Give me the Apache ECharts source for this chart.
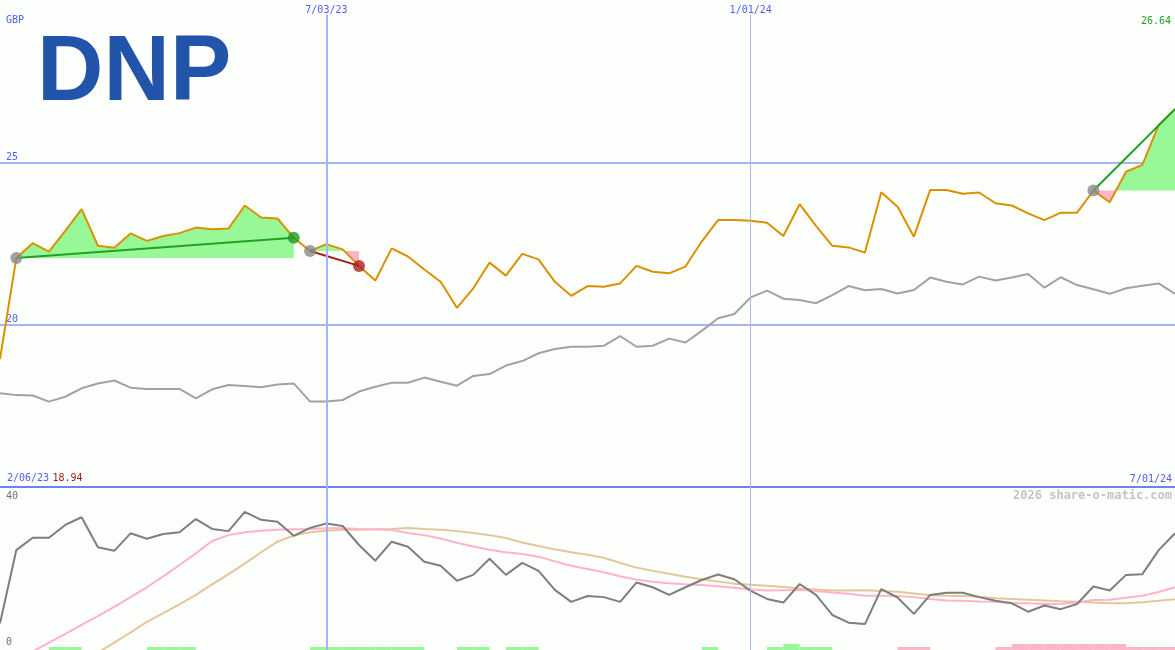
<!DOCTYPE html>
<html><head><meta charset="utf-8">
<script src="https://cdn.jsdelivr.net/npm/echarts@6/dist/echarts.min.js"></script>
<style>html,body{margin:0;padding:0;background:#fcfffc}#c{width:1175px;height:650px}</style>
</head><body><div id="c"></div><script>
// ---------------- data ----------------
const ticker = 'DNP';
const currency = 'GBP';
const rangeLabels = ['2/06/23', '7/01/24'];
const gridDateLabels = ['7/03/23', '1/01/24'];
const gridDateIndex = [20, 46];
const priceTicks = [20, 25];
const oscTicks = [0, 40];
const watermark = '2026 share-o-matic.com';

// weekly closing price (index 0 .. 72)
const price = [18.94, 22.05, 22.51, 22.25, 22.89, 23.56, 22.43, 22.37, 22.81, 22.58,
  22.73, 22.82, 22.99, 22.94, 22.96, 23.67, 23.30, 23.27, 22.68, 22.27,
  22.48, 22.32, 21.81, 21.36, 22.35, 22.10, 21.70, 21.32, 20.52, 21.12,
  21.91, 21.51, 22.18, 22.01, 21.32, 20.89, 21.19, 21.17, 21.27, 21.81,
  21.63, 21.58, 21.79, 22.56, 23.22, 23.22, 23.20, 23.14, 22.73, 23.71,
  23.04, 22.43, 22.38, 22.22, 24.08, 23.63, 22.71, 24.15, 24.15, 24.03,
  24.07, 23.74, 23.67, 23.43, 23.22, 23.45, 23.45, 24.13, 23.77, 24.71,
  24.92, 26.15, 26.64];

// comparison index (grey line, same scale)
const compare = [17.89, 17.83, 17.82, 17.63, 17.78, 18.04, 18.19, 18.28, 18.06, 18.02,
  18.02, 18.02, 17.73, 18.01, 18.14, 18.11, 18.07, 18.16, 18.19, 17.63,
  17.63, 17.68, 17.94, 18.09, 18.21, 18.21, 18.37, 18.24, 18.12, 18.42,
  18.48, 18.74, 18.88, 19.12, 19.25, 19.32, 19.32, 19.35, 19.65, 19.32,
  19.35, 19.57, 19.45, 19.81, 20.20, 20.33, 20.84, 21.05, 20.80, 20.76,
  20.66, 20.91, 21.19, 21.06, 21.10, 20.96, 21.07, 21.45, 21.32, 21.24,
  21.48, 21.36, 21.45, 21.56, 21.14, 21.46, 21.22, 21.09, 20.95, 21.12,
  21.20, 21.27, 20.95];

// lower panel oscillator
const oscillator = [5.1, 25.2, 28.6, 28.6, 32.1, 34.2, 26.0, 25.0, 29.8, 28.3,
  29.6, 30.1, 33.7, 31.0, 30.4, 35.7, 33.5, 33.0, 29.1, 31.3,
  32.5, 31.8, 26.6, 22.3, 27.5, 26.1, 22.0, 20.9, 16.8, 18.4,
  22.8, 18.4, 21.7, 19.5, 14.3, 11.0, 12.6, 12.3, 11.0, 16.3,
  15.0, 12.9, 15.0, 17.0, 18.5, 17.2, 14.0, 11.8, 10.8, 15.9,
  12.9, 7.4, 5.3, 4.9, 14.5, 12.2, 7.7, 12.9, 13.5, 13.5,
  12.3, 11.3, 10.6, 8.3, 10.0, 9.0, 10.4, 15.2, 14.1, 18.4,
  18.6, 25.2, 29.8];

// pink average
const maFast = [null, null, -2.6, -0.2, 2.2, 4.7, 7.1, 9.6, 12.3, 15.0,
  18.0, 21.1, 24.3, 27.7, 29.3, 30.1, 30.5, 30.8, 30.9, 31.0,
  31.2, 31.2, 31.0, 30.9, 30.7, 29.9, 29.3, 28.4, 27.2, 26.2,
  25.3, 24.6, 24.1, 23.4, 22.1, 20.9, 20.0, 19.1, 18.0, 17.1,
  16.5, 16.1, 15.8, 15.6, 15.3, 14.9, 14.4, 14.1, 14.2, 14.3,
  14.0, 13.6, 13.2, 12.7, 12.7, 12.6, 12.3, 11.8, 11.4, 11.3,
  11.1, 11.0, 10.7, 10.6, 10.4, 10.5, 10.8, 11.5, 11.6, 12.1,
  12.7, 13.7, 15.0];

// tan average
const maSlow = [null, null, null, null, null, null, -2.9, -0.2, 2.6, 5.5,
  7.9, 10.3, 12.9, 15.8, 18.6, 21.5, 24.6, 27.5, 29.2, 30.1,
  30.5, 30.8, 30.8, 30.9, 31.0, 31.25, 31.0, 30.8, 30.4, 29.9,
  29.3, 28.5, 27.3, 26.3, 25.4, 24.6, 23.9, 23.1, 21.7, 20.4,
  19.5, 18.7, 17.9, 17.2, 16.6, 16.0, 15.7, 15.4, 15.1, 14.7,
  14.4, 14.1, 14.15, 14.2, 14.0, 13.8, 13.3, 12.8, 12.7, 12.6,
  12.4, 12.0, 11.8, 11.6, 11.4, 11.2, 11.05, 10.8, 10.6, 10.6,
  10.9, 11.3, 11.7];

// weekly signal strip (interval i..i+1): + green, - pink
const signal = [0, 0, 0, 1, 1, 0, 0, 0, 0, 1,
  1, 1, 0, 0, 0, 0, 0, 0, 0, 1,
  1, 1, 1, 1, 1, 1, 0, 0, 1, 1,
  0, 1, 1, 0, 0, 0, 0, 0, 0, 0,
  0, 0, 0, 1, 0, 0, 0, 1, 2, 1,
  1, 0, 0, 0, 0, -1, -1, 0, 0, 0,
  0, -1, -2, -2, -2, -2, -2, -2, -2, -1,
  -1, -1];

// trades
const tradeStart = [1, 19, 67];
const tradeEnd = [18, 22, 72];
const tradeOpen = [false, false, true];

// ---------------- styles ----------------
const C = {
  bg: '#fcfffc', blue: '#5060f0', grid: '#a4b4f4', sep: '#7080f0',
  price: '#d99100', compare: '#a2a2a2', osc: '#7e7e7e',
  fast: '#ffb2c8', slow: '#e2c898', green: '#98f898', pink: '#fbb6c8',
  trendUp: '#22a022', trendDown: '#a41e1e', dotGrey: '#8a8a8a',
  dotUp: '#229922', dotDown: '#aa2222'
};
const mono = 'DejaVu Sans Mono';
const N = price.length - 1;
const LOW_MIN = -2.2, LOW_MAX = 42.5;

const pair = arr => arr.map((v, i) => [i, v]);

function tradeFill(params, api) {
  const k = params.dataIndex;
  const s = tradeStart[k], e = tradeEnd[k], b = price[s];
  const pts = [];
  for (let i = s; i <= e; i++) {
    pts.push([i, price[i]]);
    if (i < e) {
      const d0 = price[i] - b, d1 = price[i + 1] - b;
      if (d0 * d1 < 0) { const t = d0 / (d0 - d1); pts.push([i + t, b]); }
    }
  }
  const up = pts.map(p => api.coord([p[0], Math.max(p[1], b)]));
  const dn = pts.map(p => api.coord([p[0], Math.min(p[1], b)]));
  const baseR = api.coord([e, b]), baseL = api.coord([s, b]);
  return { type: 'group', children: [
    { type: 'polygon', shape: { points: up.concat([baseR, baseL]) }, style: { fill: C.green } },
    { type: 'polygon', shape: { points: dn.concat([baseR, baseL]) }, style: { fill: C.pink } }
  ]};
}

function signalBar(params, api) {
  const i = api.value(0), lv = api.value(1);
  if (!lv) return null;
  const a = api.coord([i, 0]), b = api.coord([i + 1, Math.abs(lv)]);
  return { type: 'rect', shape: { x: a[0], y: b[1], width: b[0] - a[0], height: a[1] - b[1] },
    style: { fill: lv > 0 ? C.green : C.pink } };
}

const trendSeries = tradeStart.map((s, k) => {
  const e = tradeEnd[k];
  const col = price[e] >= price[s] ? C.trendUp : C.trendDown;
  return { type: 'line', xAxisIndex: 0, yAxisIndex: 0, data: [[s, price[s]], [e, price[e]]],
    symbol: 'none', lineStyle: { color: col, width: 2 }, z: 4, silent: true };
});

const entryDots = tradeStart.map(s => [s, price[s]]);
const exitDots = tradeEnd.map((e, k) => tradeOpen[k] ? null :
  { value: [e, price[e]], itemStyle: { color: price[e] >= price[tradeStart[k]] ? C.dotUp : C.dotDown } }).filter(Boolean);

const option = {
  animation: false,
  backgroundColor: C.bg,
  title: { text: ticker, left: 32, top: 24,
    textStyle: { fontSize: 92, fontWeight: 'bold', color: '#2255aa', fontFamily: 'Liberation Sans' } },
  graphic: [
    { type: 'text', left: 6, top: 15, style: { text: currency, fill: C.blue, font: '10px ' + mono } },
    { type: 'text', right: 4, top: 16, style: { text: price[N].toFixed(2), fill: '#22a022', font: '10px ' + mono } },
    { type: 'text', right: 3, top: 490, style: { text: watermark, fill: '#c4c4c4', font: 'bold 12px ' + mono } }
  ],
  grid: [
    { left: 0, right: 0, top: 0, height: 487 },
    { left: 0, right: 0, top: 487, height: 163 }
  ],
  xAxis: [
    { type: 'value', gridIndex: 0, min: 0, max: N, position: 'bottom',
      axisLine: { show: true, onZero: false, lineStyle: { color: C.sep, width: 2 } },
      axisTick: { show: false }, splitLine: { show: false },
      axisLabel: { inside: true, margin: 3, customValues: [0, N], showMinLabel: true, showMaxLabel: true,
        alignMinLabel: 'left', alignMaxLabel: 'right',
        formatter: v => v === 0 ? '{d|' + rangeLabels[0] + '} {r|' + price[0].toFixed(2) + '}' : '{e|' + rangeLabels[1] + '}',
        rich: {
          d: { color: C.blue, fontFamily: mono, fontSize: 10, padding: [0, 0, 0, 7] },
          r: { color: '#a01c1c', fontFamily: mono, fontSize: 10 },
          e: { color: C.blue, fontFamily: mono, fontSize: 10, padding: [0, 3, 0, 0] }
        } } },
    { type: 'value', gridIndex: 0, min: 0, max: N, position: 'top',
      axisLine: { show: false }, axisTick: { show: false }, splitLine: { show: false },
      axisLabel: { inside: true, margin: 5, customValues: gridDateIndex,
        formatter: v => gridDateLabels[gridDateIndex.indexOf(v)],
        color: C.blue, fontFamily: mono, fontSize: 10 } },
    { type: 'value', gridIndex: 1, min: 0, max: N, show: false }
  ],
  yAxis: [
    { type: 'value', gridIndex: 0, min: 15, max: 30, interval: 5,
      axisLine: { show: false }, axisTick: { show: false },
      splitLine: { show: true, showMinLine: false, showMaxLine: false, lineStyle: { color: C.grid, width: 2 } },
      axisLabel: { inside: true, margin: 6, customValues: priceTicks, verticalAlign: 'bottom',
        color: C.blue, fontFamily: mono, fontSize: 10 } },
    { type: 'value', gridIndex: 1, min: LOW_MIN, max: LOW_MAX,
      axisLine: { show: false }, axisTick: { show: false }, splitLine: { show: false },
      axisLabel: { inside: true, margin: 6, customValues: oscTicks, verticalAlign: 'middle',
        color: '#707070', fontFamily: mono, fontSize: 10 } },
    { type: 'value', gridIndex: 1, min: 0, max: 163 / 3, show: false }
  ],
  series: [
    { type: 'custom', xAxisIndex: 0, yAxisIndex: 0, renderItem: tradeFill,
      data: tradeStart.map(s => [s, price[s]]), z: 1, silent: true },
    { type: 'line', xAxisIndex: 0, yAxisIndex: 0, data: pair(compare), symbol: 'none',
      lineStyle: { color: C.compare, width: 2 }, z: 2, silent: true,
      markLine: { silent: true, symbol: ['none', 'none'], label: { show: false },
        data: gridDateIndex.map((v, j) => [
          { coord: [v, 29.55], lineStyle: { color: j === 0 ? C.grid : '#b0b8e6', width: j === 0 ? 2 : 1, type: 'solid' } },
          { coord: [v, 15] }]) } },
    { type: 'line', xAxisIndex: 0, yAxisIndex: 0, data: pair(price), symbol: 'none',
      lineStyle: { color: C.price, width: 2 }, z: 3, silent: true },
    ...trendSeries,
    { type: 'scatter', xAxisIndex: 0, yAxisIndex: 0, data: entryDots, symbolSize: 12,
      itemStyle: { color: C.dotGrey }, z: 5, silent: true },
    { type: 'scatter', xAxisIndex: 0, yAxisIndex: 0, data: exitDots, symbolSize: 12, z: 5, silent: true },
    // lower panel
    { type: 'custom', xAxisIndex: 2, yAxisIndex: 2, renderItem: signalBar,
      data: signal.map((v, i) => [i, v]), z: 1, silent: true },
    { type: 'line', xAxisIndex: 2, yAxisIndex: 1, data: pair(maSlow), symbol: 'none',
      lineStyle: { color: C.slow, width: 2 }, z: 2, silent: true,
      markLine: { silent: true, symbol: ['none', 'none'], label: { show: false },
        data: gridDateIndex.map((v, j) => ({ xAxis: v,
          lineStyle: { color: j === 0 ? C.grid : '#b0b8e6', width: j === 0 ? 2 : 1, type: 'solid' } })) } },
    { type: 'line', xAxisIndex: 2, yAxisIndex: 1, data: pair(maFast), symbol: 'none',
      lineStyle: { color: C.fast, width: 2 }, z: 3, silent: true },
    { type: 'line', xAxisIndex: 2, yAxisIndex: 1, data: pair(oscillator), symbol: 'none',
      lineStyle: { color: C.osc, width: 2 }, z: 4, silent: true }
  ]
};
const chart = echarts.init(document.getElementById('c'), null, { renderer: 'canvas' });
chart.setOption(option);
</script></body></html>
